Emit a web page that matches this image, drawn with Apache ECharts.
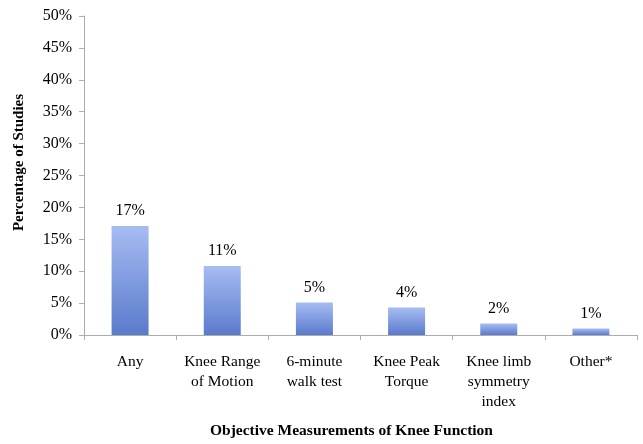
<!DOCTYPE html>
<html>
<head>
<meta charset="utf-8">
<script src="https://cdn.jsdelivr.net/npm/echarts@6/dist/echarts.min.js"></script>
<style>html,body{margin:0;padding:0;background:#fff;}#c{width:643px;height:444px;}</style>
</head>
<body>
<div id="c"></div>
<script>
var categories = ["Any", "Knee Range\nof Motion", "6-minute\nwalk test", "Knee Peak\nTorque", "Knee limb\nsymmetry\nindex", "Other*"];
var values = [17.1, 10.8, 5.1, 4.3, 1.8, 1.0];
var valueLabels = ["17%", "11%", "5%", "4%", "2%", "1%"];
var yTicks = [0, 5, 10, 15, 20, 25, 30, 35, 40, 45, 50];

var chart = echarts.init(document.getElementById('c'));
var serif = "Liberation Serif";
chart.setOption({
  animation: false,
  grid: {left: 84, right: 6, top: 16, bottom: 107},
  xAxis: {
    type: 'category',
    data: categories,
    name: 'Objective Measurements of Knee Function',
    nameLocation: 'middle',
    nameGap: 88,
    nameTextStyle: {fontFamily: serif, fontWeight: 'bold', fontSize: 15.5, color: '#000', padding: [0, 18, 0, 0]},
    axisLine: {lineStyle: {color: '#acacac', width: 1}},
    axisTick: {show: true, alignWithLabel: false, length: 5, lineStyle: {color: '#acacac'}},
    axisLabel: {fontFamily: serif, fontSize: 15.5, color: '#000', margin: 17, lineHeight: 20, interval: 0}
  },
  yAxis: {
    type: 'value',
    min: yTicks[0],
    max: yTicks[yTicks.length - 1],
    interval: 5,
    name: 'Percentage of Studies',
    nameLocation: 'middle',
    nameGap: 57,
    nameRotate: 90,
    nameTextStyle: {fontFamily: serif, fontWeight: 'bold', fontSize: 15, color: '#000', padding: [0, 0, 0, 26]},
    axisLine: {show: true, lineStyle: {color: '#acacac', width: 1}},
    axisTick: {show: true, inside: false, length: 5, lineStyle: {color: '#acacac'}},
    splitLine: {show: false},
    axisLabel: {fontFamily: serif, fontSize: 16, color: '#000', margin: 12, formatter: function (v) { return v + '%'; }}
  },
  series: [{
    type: 'bar',
    data: values,
    barWidth: 37,
    itemStyle: {
      color: new echarts.graphic.LinearGradient(0, 0, 0, 1, [
        {offset: 0, color: '#a6bcf3'},
        {offset: 1, color: '#5a7acb'}
      ])
    },
    label: {
      show: true,
      position: 'top',
      distance: 7,
      fontFamily: serif,
      fontSize: 16,
      color: '#000',
      formatter: function (p) { return valueLabels[p.dataIndex]; }
    }
  }]
});
</script>
</body>
</html>
